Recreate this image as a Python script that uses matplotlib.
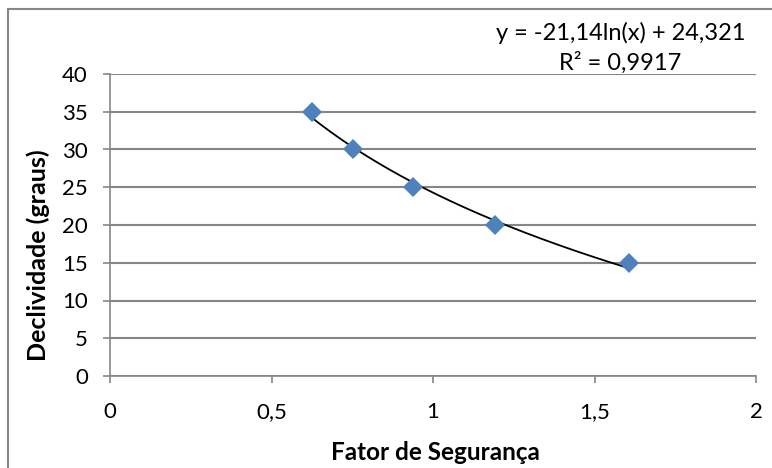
#!/usr/bin/env python3
import matplotlib.pyplot as plt
import numpy as np
from matplotlib.patches import Rectangle

# fator de seguranca vs declividade
fator = np.asarray([0.625, 0.752, 0.938, 1.192, 1.607])
declividade = np.asarray([35, 30, 25, 20, 15])
xticks = [0, 0.5, 1, 1.5, 2]
xticklabels = ["0", "0,5", "1", "1,5", "2"]
yticks = [0, 5, 10, 15, 20, 25, 30, 35, 40]

plt.rcParams["font.family"] = ["Lato", "DejaVu Sans"]
grid_color = "#868686"

fig = plt.figure(figsize=(7.72, 4.68), dpi=100)
ax = fig.add_axes([110 / 772, 1 - 376 / 468, (756 - 110) / 772, (376 - 74) / 468])

# log trendline fitted to the points
b, a = np.polyfit(np.log(fator), declividade, 1)
xs = np.linspace(fator.min(), fator.max(), 200)
ax.plot(xs, b * np.log(xs) + a, color="black", lw=1.3, zorder=3)
ax.plot(fator, declividade, ls="none", marker="D", markersize=9.7,
        color="#4F81BD", markeredgewidth=0, zorder=4)

ax.set_xlim(0, 2)
ax.set_ylim(0, 40)
ax.set_xticks(xticks)
ax.set_xticklabels(xticklabels)
ax.set_yticks(yticks)
ax.grid(axis="y", color=grid_color, lw=1.5)
ax.set_axisbelow(True)
for s in ["top", "right"]:
    ax.spines[s].set_visible(False)
for s in ["left", "bottom"]:
    ax.spines[s].set_color(grid_color)
    ax.spines[s].set_linewidth(1.2)
ax.tick_params(direction="out", length=5, width=1.2, color=grid_color,
               labelsize=16)
ax.tick_params(axis="y", pad=11)
ax.tick_params(axis="x", pad=14)
ax.set_xlabel("Fator de Segurança", fontsize=17.5, fontweight="bold")
ax.set_ylabel("Declividade (graus)", fontsize=18, fontweight="bold")
ax.xaxis.set_label_coords(0.503, -(452 - 376) / 302)
ax.yaxis.set_label_coords(-(110 - 38) / 646, (376 - 255) / 302)
ax.xaxis.label.set_va("center")
ax.yaxis.label.set_va("center")

fig.text(621 / 772, 1 - 33 / 468, "y = -21,14ln(x) + 24,321", fontsize=17,
         ha="center", va="center")
fig.text(620 / 772, 1 - 63 / 468, "R² = 0,9917", fontsize=17,
         ha="center", va="center")

fig.patches.append(Rectangle((8 / 772, -0.01), 1.0, 1 - 9 / 468 + 0.01,
                             transform=fig.transFigure, fill=False,
                             edgecolor=grid_color, lw=1.5))

plt.savefig("out.png", dpi=100)
